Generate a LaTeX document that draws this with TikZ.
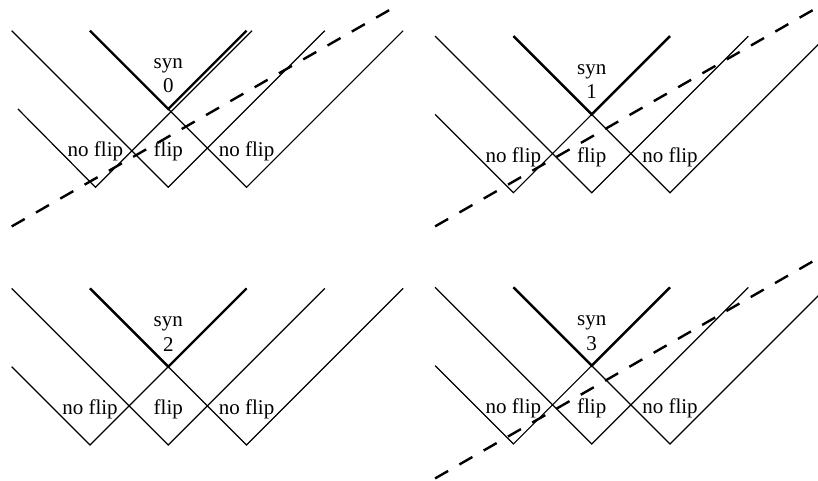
\documentclass[tikz,border=0pt]{standalone}
\usepackage{fontspec}
\setmainfont{Liberation Serif}

\begin{document}
\begin{tikzpicture}[
  x=39.15pt,
  y=39.15pt,
  vline/.style={line width=0.6pt},
  synv/.style={line width=1.2pt},
  cut/.style={line width=1.2pt, dash pattern=on 7.5pt off 6.5pt},
  lab/.style={font=\fontsize{10.5}{12}\selectfont, inner sep=0pt, anchor=base}
  ]
    \useasboundingbox (0,0) rectangle (10.447,6.143);

    % panel origins (bottom of the middle V)
    \coordinate (one) at (2.149,3.751);
    \coordinate (two) at (7.557,3.682);
    \coordinate (three) at (2.149,0.460);
    \coordinate (four) at (7.557,0.473);

%%%%%%%%%%  syn 0
\begin{scope}[shift={(one)}]
% left V (a bit off to the right)
\draw[vline] (-1.92,1) -- (-0.93,0) -- (1.07,2);
% middle V
\draw[vline] (-2,2) -- (0,0) -- (2,2);
% right V
\draw[vline] (-1,2) -- (1,0) -- (3,2);
% syn V
\draw[synv] (-1,2) -- (0,1) -- (1,2);
\node[lab] (synone) at (0,1.52) {syn};
\node[lab] (numone) at (0,1.21) {0};
\node[lab] (leftone) at (-0.93,0.39) {no flip};
\node[lab] (midone) at (0,0.39) {flip};
\node[lab] (rightone) at (1,0.39) {no flip};
% cut
\draw[cut] (-2,-0.5) -- (2.87,2.29);
\end{scope}

%%%%%%%%%%  syn 1
\begin{scope}[shift={(two)}]
\draw[vline] (-2,1) -- (-1,0) -- (1,2);
\draw[vline] (-2,2) -- (0,0) -- (2,2);
\draw[vline] (-1,2) -- (1,0) -- (3,2);
\draw[synv] (-1,2) -- (0,1) -- (1,2);
\node[lab] (syntwo) at (0,1.51) {syn};
\node[lab] (numtwo) at (0,1.20) {1};
\node[lab] (lefttwo) at (-1,0.39) {no flip};
\node[lab] (midtwo) at (0,0.39) {flip};
\node[lab] (righttwo) at (1,0.39) {no flip};
\draw[cut] (-2,-0.43) -- (2.89,2.37);
\end{scope}

%%%%%%%%%%  syn 2
\begin{scope}[shift={(three)}]
\draw[vline] (-2,1) -- (-1,0) -- (1,2);
\draw[vline] (-2,2) -- (0,0) -- (2,2);
\draw[vline] (-1,2) -- (1,0) -- (3,2);
\draw[synv] (-1,2) -- (0,1) -- (1,2);
\node[lab] (synthree) at (0,1.51) {syn};
\node[lab] (numthree) at (0,1.20) {2};
\node[lab] (leftthree) at (-1,0.39) {no flip};
\node[lab] (midthree) at (0,0.39) {flip};
\node[lab] (rightthree) at (1,0.39) {no flip};
\end{scope}

%%%%%%%%%%  syn 3
\begin{scope}[shift={(four)}]
\draw[vline] (-2,1) -- (-1,0) -- (1,2);
\draw[vline] (-2,2) -- (0,0) -- (2,2);
\draw[vline] (-1,2) -- (1,0) -- (3,2);
\draw[synv] (-1,2) -- (0,1) -- (1,2);
\node[lab] (synfour) at (0,1.51) {syn};
\node[lab] (numfour) at (0,1.20) {3};
\node[lab] (leftfour) at (-1,0.39) {no flip};
\node[lab] (midfour) at (0,0.39) {flip};
\node[lab] (rightfour) at (1,0.39) {no flip};
\draw[cut] (-2,-0.44) -- (2.89,2.37);
\end{scope}

\end{tikzpicture}
\end{document}
